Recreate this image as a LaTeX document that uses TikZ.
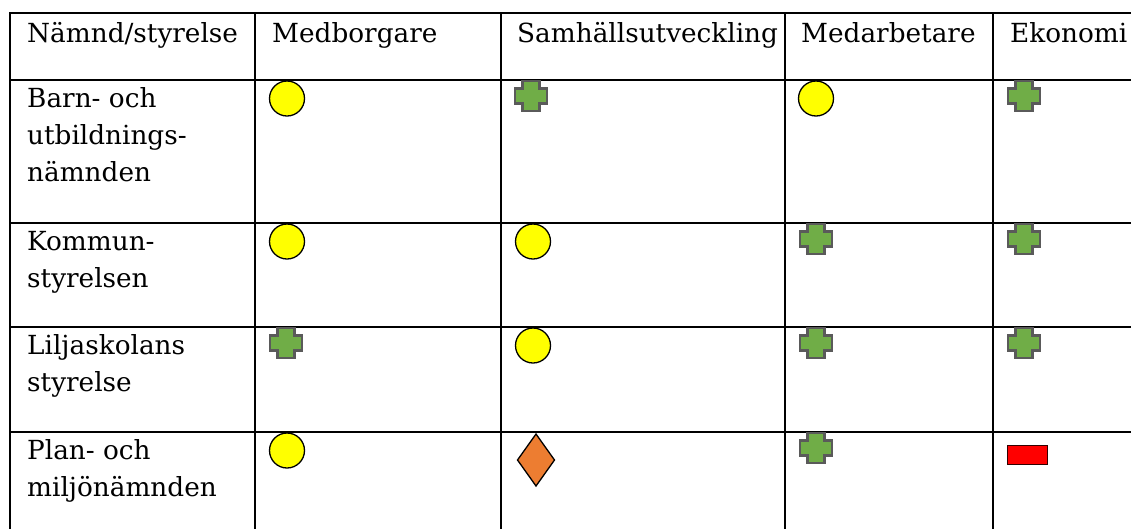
\documentclass[tikz,border=0pt]{standalone}
\usepackage{fontspec}
\setmainfont{DejaVu Serif}
\definecolor{plusgreen}{HTML}{70AD47}
\definecolor{plusgray}{HTML}{5A5A5A}
\definecolor{dorange}{HTML}{ED7D31}
\definecolor{cyellow}{HTML}{FFFF00}
\definecolor{rred}{HTML}{FF0000}
\begin{document}
\begin{tikzpicture}[x=1pt,y=-1pt,
  grid/.style={line width=2pt, black},
  txt/.style={anchor=base west, inner sep=0pt, font=\fontsize{26.3}{37}\selectfont},
  yc/.style={circle, draw=black, line width=1.3pt, fill=cyellow, minimum size=35pt, inner sep=0pt},
  dia/.style={draw=black, line width=1.3pt, fill=dorange, line join=miter},
  rr/.style={rectangle, draw=black!80!red, line width=1pt, fill=rred, minimum width=40pt, minimum height=19pt, inner sep=0pt},
  crosspic/.pic={\draw[line width=2.5pt, draw=plusgray, fill=plusgreen, line join=miter]
    (-8.5,-15) -- (8.5,-15) -- (8.5,-7.5) -- (16,-7.5) -- (16,7.5) -- (8.5,7.5) -- (8.5,15)
    -- (-8.5,15) -- (-8.5,7.5) -- (-16,7.5) -- (-16,-7.5) -- (-8.5,-7.5) -- cycle;}
]
\useasboundingbox[fill=white] (0,0) rectangle (1131,528);
\clip (0,0) rectangle (1131,528);
% grid
\foreach \yy in {13,80,223,327,432} \draw[grid] (9,\yy) -- (1135,\yy);
\foreach \xx in {10,255,501,785,993} \draw[grid] (\xx,12) -- (\xx,530);
% header
\node[txt] (h1) at (27,42) {Nämnd/styrelse};
\node[txt] (h2) at (272,42) {Medborgare};
\node[txt] (h3) at (517,42) {Samhällsutveckling};
\node[txt] (h4) at (801,42) {Medarbetare};
\node[txt] (h5) at (1010,42) {Ekonomi};
% row labels
\node[txt] (r1a) at (27,107) {Barn- och};
\node[txt] (r1b) at (27,144) {utbildnings-};
\node[txt] (r1c) at (27,181) {nämnden};
\node[txt] (r2a) at (27,250) {Kommun-};
\node[txt] (r2b) at (27,287) {styrelsen};
\node[txt] (r3a) at (27,354) {Liljaskolans};
\node[txt] (r3b) at (27,391) {styrelse};
\node[txt] (r4a) at (27,459) {Plan- och};
\node[txt] (r4b) at (27,496) {miljönämnden};
% row 1
\node[yc] (c12) at (287,98.5) {};
\pic at (531,96) {crosspic};
\node[yc] (c14) at (816,98.5) {};
\pic at (1024,96) {crosspic};
% row 2
\node[yc] (c22) at (287,241.5) {};
\node[yc] (c23) at (533,241.5) {};
\pic at (816,239) {crosspic};
\pic at (1024,239) {crosspic};
% row 3
\pic at (286,343) {crosspic};
\node[yc] (c33) at (533,345.5) {};
\pic at (816,343) {crosspic};
\pic at (1024,343) {crosspic};
% row 4
\node[yc] (c42) at (287,450.5) {};
\draw[dia] (536,434) -- (554.5,460) -- (536,486) -- (517.5,460) -- cycle;
\pic at (816,448) {crosspic};
\node[rr] (r45) at (1027.5,455) {};
\end{tikzpicture}
\end{document}
